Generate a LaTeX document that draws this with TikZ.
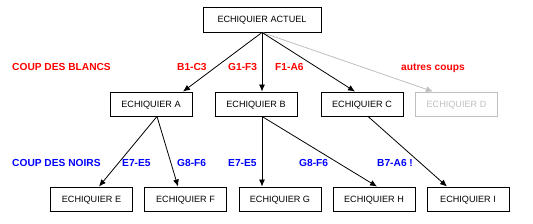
\documentclass[tikz,border=0pt]{standalone}
\usepackage{fontspec}
\setmainfont{Liberation Sans}
\usetikzlibrary{arrows.meta}
\begin{document}
\begin{tikzpicture}[x=1pt,y=-1pt,
  board/.style={draw=black,line width=0.9pt,minimum width=82pt,minimum height=24pt,inner sep=0pt,
    font=\fontsize{9.1pt}{10pt}\selectfont,text height=6.6pt,text depth=0pt},
  ghost/.style={board,draw=black!25,text=black!25},
  move/.style={-{Latex[length=7pt,width=6pt]},line width=0.8pt,draw=black},
  ghostmove/.style={move,draw=black!25},
  wlab/.style={anchor=base west,inner sep=0pt,text=red,font=\fontsize{10.2pt}{12pt}\selectfont\bfseries},
  blab/.style={wlab,text=blue}]
\useasboundingbox (0,0) rectangle (533,224);
% nodes
\node[board,minimum width=118pt,minimum height=25pt] (root) at (262,19.5) {ECHIQUIER ACTUEL};
\node[board] (A) at (151,104) {ECHIQUIER A};
\node[board] (B) at (256,104) {ECHIQUIER B};
\node[board] (C) at (362,104) {ECHIQUIER C};
\node[ghost] (D) at (456.5,104) {ECHIQUIER D};
\node[board] (E) at (91.5,199) {ECHIQUIER E};
\node[board] (F) at (185.5,199) {ECHIQUIER F};
\node[board] (G) at (280,199) {ECHIQUIER G};
\node[board] (H) at (374,199) {ECHIQUIER H};
\node[board] (I) at (468,199) {ECHIQUIER I};
% labels
\node[wlab] (lw) at (12,71) {COUP DES BLANCS};
\node[wlab] (l1) at (177,71) {B1-C3};
\node[wlab] (l2) at (228,71) {G1-F3};
\node[wlab] (l3) at (275,71) {F1-A6};
\node[wlab] (l4) at (401,71) {autres coups};
\node[blab] (lb) at (12,166.5) {COUP DES NOIRS};
\node[blab] (m1) at (122,166.5) {E7-E5};
\node[blab] (m2) at (177,166.5) {G8-F6};
\node[blab] (m3) at (228,166.5) {E7-E5};
\node[blab] (m4) at (299,166.5) {G8-F6};
\node[blab] (m5) at (377,166.5) {B7-A6 !};
% connectors
\draw[ghostmove] (root.south) -- ([xshift=-23.5pt]D.north);
\draw[move] (root.south) -- ([xshift=32pt]A.north);
\draw[move] (root.south) -- ([xshift=6pt]B.north);
\draw[move] (root.south) -- ([xshift=-7pt]C.north);
\draw[move] ([xshift=6pt]A.south) -- ([xshift=7.5pt]E.north);
\draw[move] ([xshift=6pt]A.south) -- ([xshift=-7.5pt]F.north);
\draw[move] ([xshift=6pt]B.south) -- ([xshift=-18pt]G.north);
\draw[move] ([xshift=6pt]B.south) -- ([xshift=3pt]H.north);
\draw[move] ([xshift=6pt]C.south) -- ([xshift=-21pt]I.north);
\end{tikzpicture}
\end{document}
